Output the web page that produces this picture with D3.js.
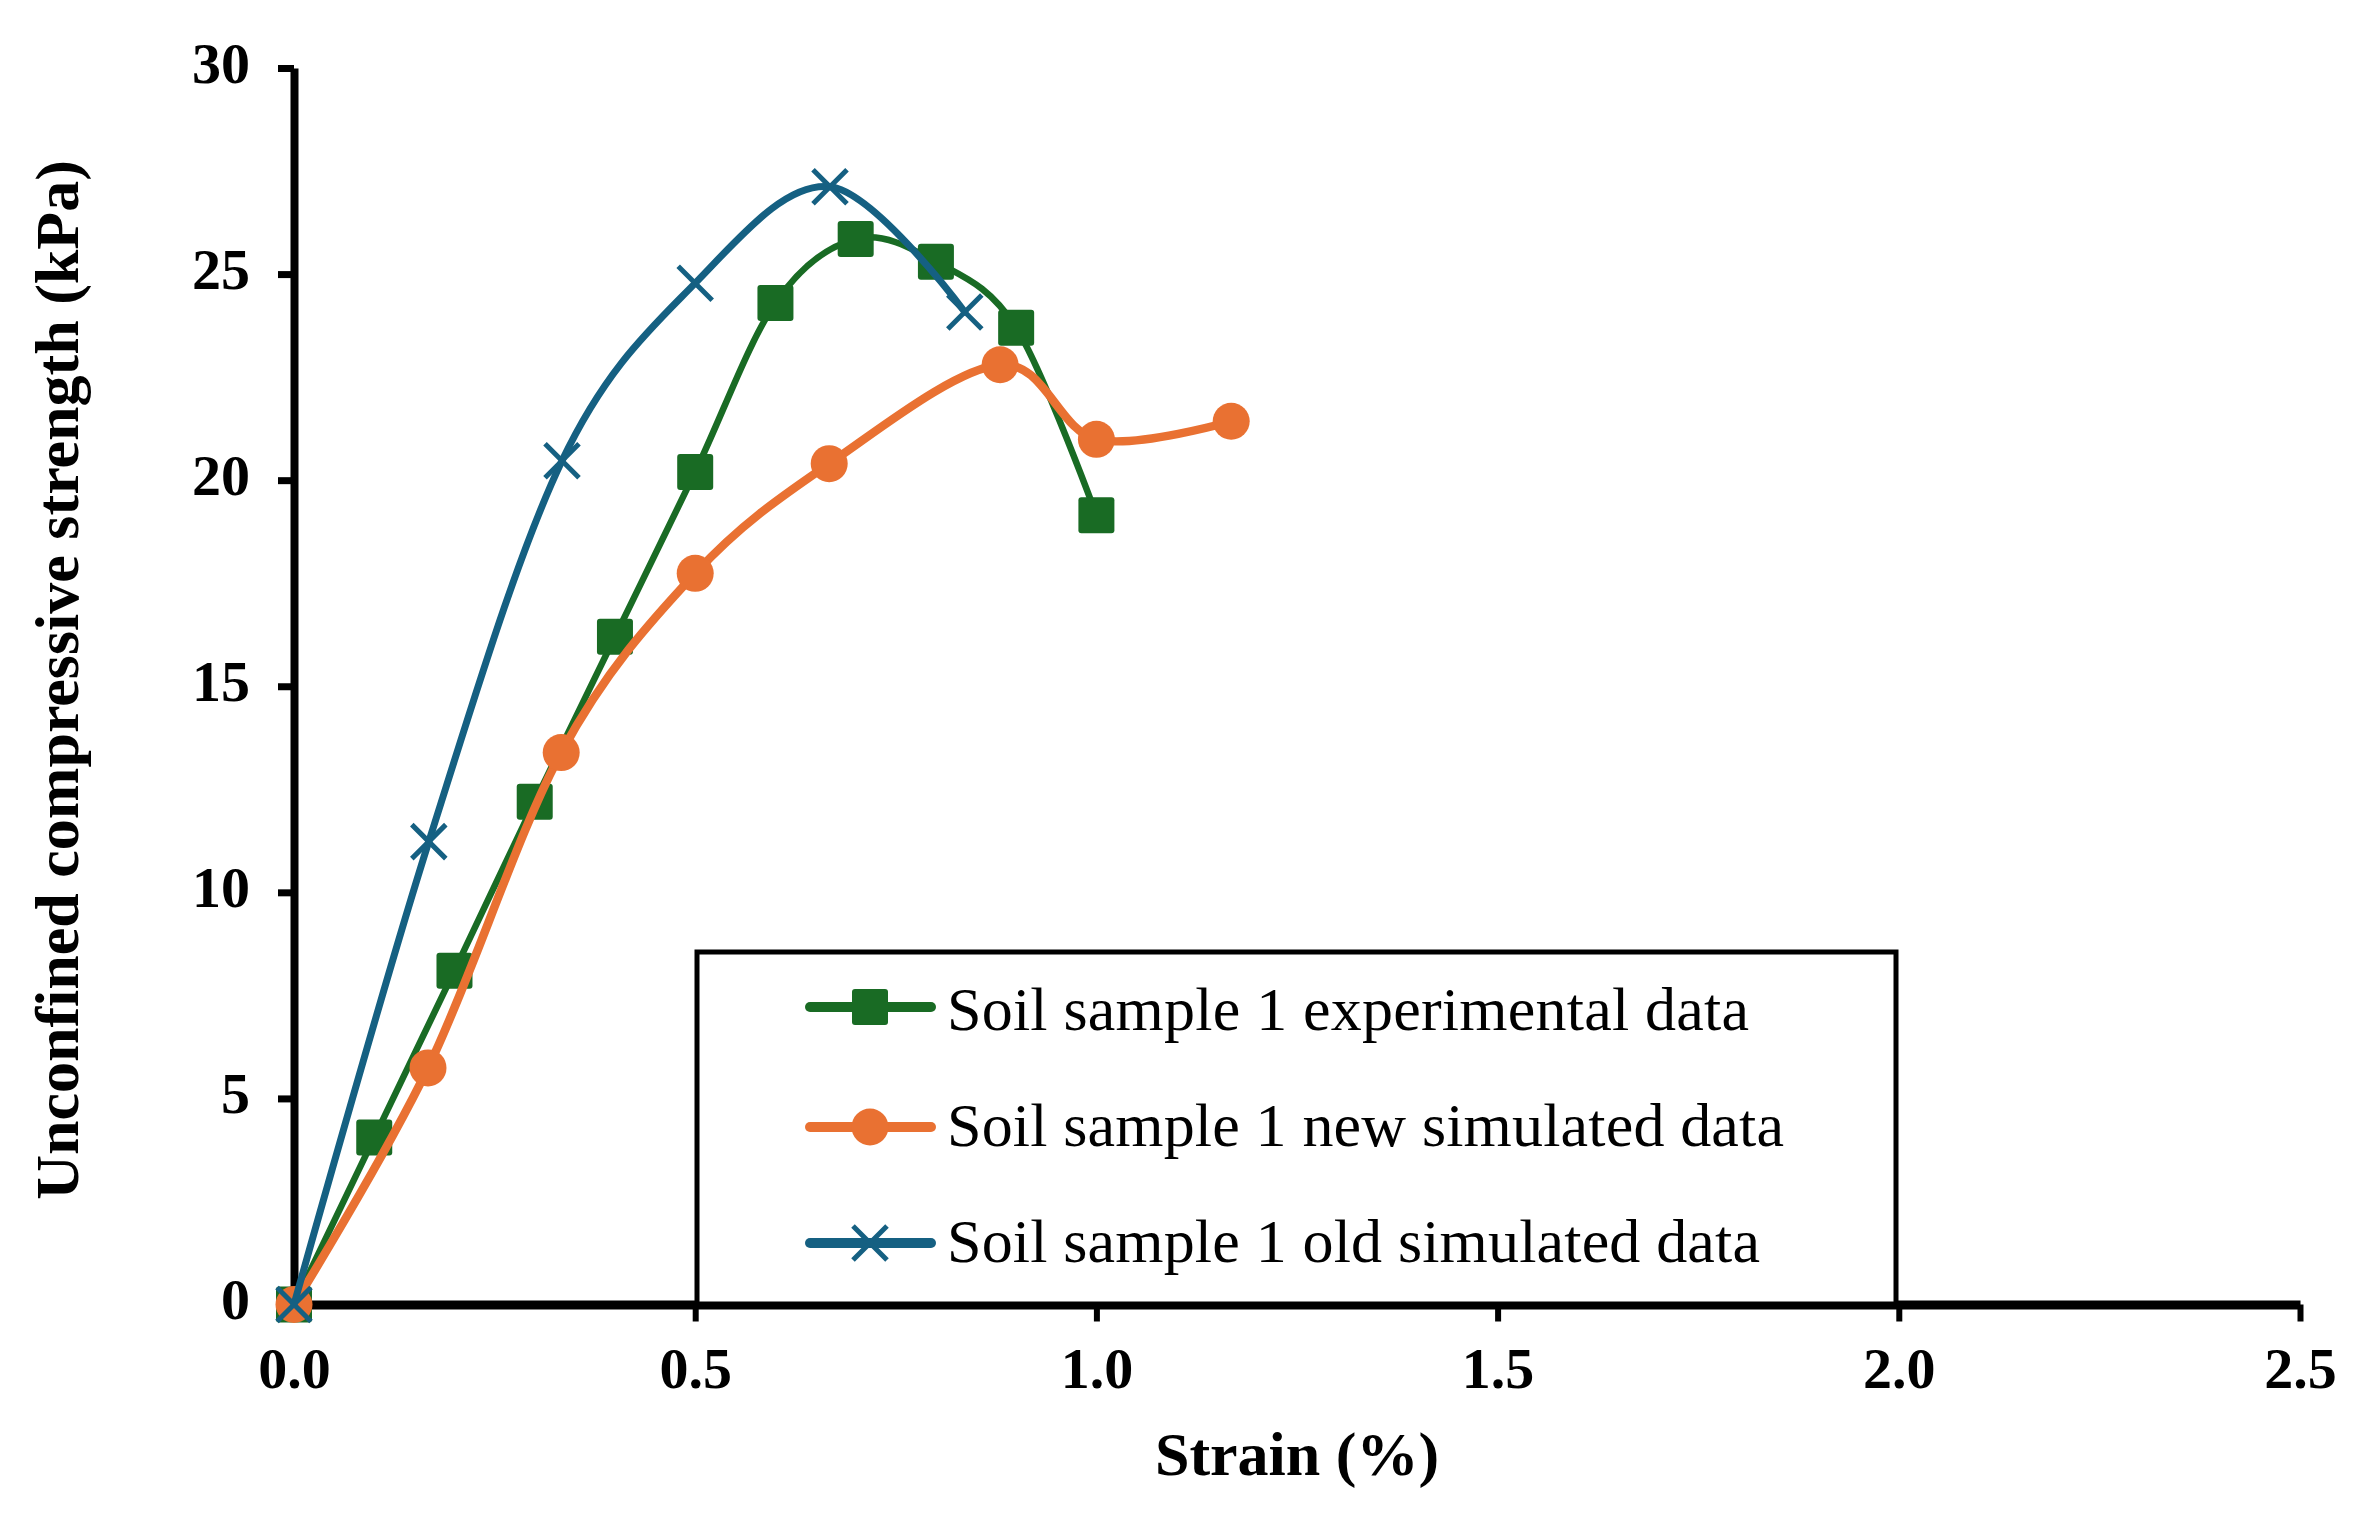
<!DOCTYPE html>
<html>
<head>
<meta charset="utf-8">
<script src="https://cdn.jsdelivr.net/npm/d3@7"></script>
<style>
  html, body { margin: 0; padding: 0; background: #ffffff; }
  svg { display: block; }
</style>
</head>
<body>
<svg id="chart" width="2368" height="1518"></svg>
<script>
// ---- data ----
const seriesNames = [
  "Soil sample 1 experimental data",
  "Soil sample 1 new simulated data",
  "Soil sample 1 old simulated data"
];
const strainExp = [0, 0.1, 0.2, 0.3, 0.4, 0.5, 0.6, 0.7, 0.8, 0.9, 1.0];
const ucsExp    = [0, 4.05, 8.1, 12.2, 16.2, 20.2, 24.3, 25.85, 25.3, 23.7, 19.15];
const strainNew = [0, 0.167, 0.333, 0.5, 0.667, 0.88, 1.0, 1.168];
const ucsNew    = [0, 5.74, 13.39, 17.74, 20.4, 22.8, 20.99, 21.43];
const strainOld = [0, 0.168, 0.334, 0.5, 0.668, 0.836];
const ucsOld    = [0, 11.23, 20.47, 24.78, 27.12, 24.08];
const xTicks = [0, 0.5, 1.0, 1.5, 2.0, 2.5];
const yTicks = [0, 5, 10, 15, 20, 25, 30];
const xTitle = "Strain (%)";
const yTitle = "Unconfined compressive strength (kPa)";

// ---- layout / style ----
const colors = ["#196B24", "#E97132", "#156082"];
const lineWidths = [6.5, 8.5, 7];
const legendTextLen = [802, 837, 813];
const FONT = "'Liberation Serif', 'Times New Roman', serif";

const svg = d3.select("#chart");
svg.append("rect").attr("width", 2368).attr("height", 1518).attr("fill", "#fff");

const x = d3.scaleLinear().domain([0, 2.5]).range([294, 2300]);
const y = d3.scaleLinear().domain([0, 30]).range([1304.5, 68]);

// axes
const xAxis = d3.axisBottom(x).tickValues(xTicks).tickFormat(d3.format(".1f"))
  .tickSize(17).tickSizeOuter(0);
const yAxis = d3.axisLeft(y).tickValues(yTicks).tickFormat(d3.format("d"))
  .tickSize(16).tickSizeOuter(0);

const gx = svg.append("g").attr("transform", `translate(0,${y(0)})`).call(xAxis);
gx.select(".domain").attr("stroke", "#000").attr("stroke-width", 9);
gx.selectAll(".tick line").attr("stroke", "#000").attr("stroke-width", 6);
gx.selectAll(".tick text").attr("y", 83).attr("dy", 0)
  .attr("font-family", FONT).attr("font-weight", "bold").attr("font-size", 58).attr("fill", "#000");

const gy = svg.append("g").attr("transform", `translate(${x(0)},0)`).call(yAxis);
gy.select(".domain").attr("stroke", "#000").attr("stroke-width", 8);
gy.selectAll(".tick line").attr("stroke", "#000").attr("stroke-width", 7);
gy.selectAll(".tick text").attr("x", -44).attr("dy", 0).attr("y", 14)
  .attr("font-family", FONT).attr("font-weight", "bold").attr("font-size", 58).attr("fill", "#000");

// axis titles
svg.append("text").attr("x", 1297).attr("y", 1475).attr("text-anchor", "middle")
  .attr("font-family", FONT).attr("font-weight", "bold").attr("font-size", 62)
  .text(xTitle);
svg.append("text").attr("transform", "translate(78,680) rotate(-90)").attr("text-anchor", "middle")
  .attr("font-family", FONT).attr("font-weight", "bold").attr("font-size", 62)
  .text(yTitle);

// legend box
const legend = svg.append("g");
legend.append("rect").attr("x", 697).attr("y", 952).attr("width", 1199).attr("height", 352)
  .attr("fill", "#fff").attr("stroke", "#000").attr("stroke-width", 5);

// series
const series = [
  { xs: strainExp, ys: ucsExp, marker: "square" },
  { xs: strainNew, ys: ucsNew, marker: "circle" },
  { xs: strainOld, ys: ucsOld, marker: "x" }
];

const line = d3.line().x(d => x(d[0])).y(d => y(d[1])).curve(d3.curveCardinal.tension(0));

function drawMarker(g, type, cx, cy, color) {
  if (type === "square") {
    g.append("rect").attr("x", cx - 18).attr("y", cy - 18).attr("width", 36).attr("height", 36)
      .attr("rx", 3).attr("fill", color);
  } else if (type === "circle") {
    g.append("circle").attr("cx", cx).attr("cy", cy).attr("r", 18.5).attr("fill", color);
  } else {
    g.append("path").attr("d", `M${cx-17},${cy-17}L${cx+17},${cy+17}M${cx-17},${cy+17}L${cx+17},${cy-17}`)
      .attr("stroke", color).attr("stroke-width", 5).attr("fill", "none");
  }
}

series.forEach((s, i) => {
  const pts = s.xs.map((v, k) => [v, s.ys[k]]);
  const g = svg.append("g");
  g.append("path").attr("d", line(pts)).attr("fill", "none")
    .attr("stroke", colors[i]).attr("stroke-width", lineWidths[i])
    .attr("stroke-linejoin", "round").attr("stroke-linecap", "round");
  pts.forEach(p => drawMarker(g, s.marker, x(p[0]), y(p[1]), colors[i]));
});

// legend entries
const legendMarkerY = [1007, 1127, 1243];
const legendBaseY = [1030, 1146, 1262];
series.forEach((s, i) => {
  legend.append("line").attr("x1", 810).attr("x2", 931)
    .attr("y1", legendMarkerY[i]).attr("y2", legendMarkerY[i])
    .attr("stroke", colors[i]).attr("stroke-width", 10).attr("stroke-linecap", "round");
  drawMarker(legend, s.marker, 870, legendMarkerY[i], colors[i]);
  legend.append("text").attr("x", 947).attr("y", legendBaseY[i])
    .attr("font-family", FONT).attr("font-size", 62).attr("fill", "#000")
    .attr("textLength", legendTextLen[i]).attr("lengthAdjust", "spacing")
    .text(seriesNames[i]);
});
</script>
</body>
</html>
